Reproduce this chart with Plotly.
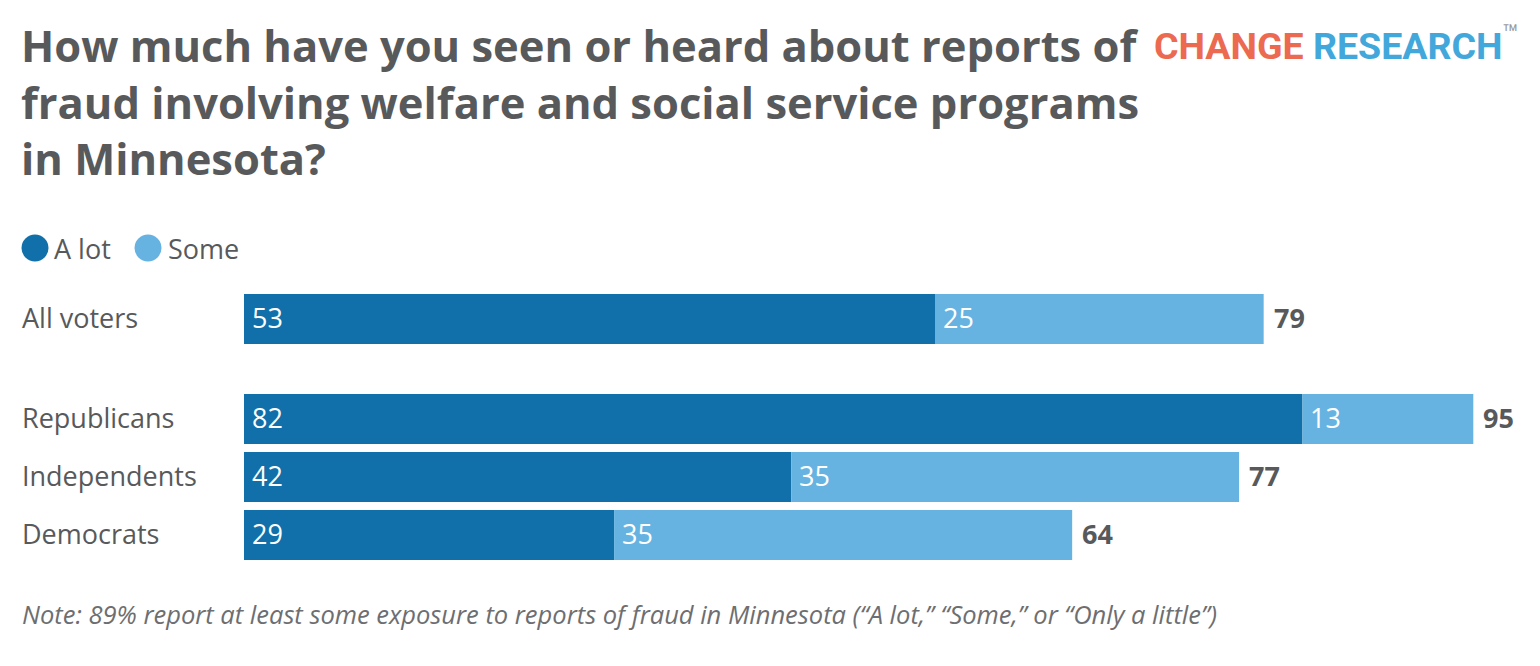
import plotly.graph_objects as go

# Survey data (percent)
groups = ["All voters", "Republicans", "Independents", "Democrats"]
a_lot = [53.4, 81.8, 42.3, 28.6]
some = [25.4, 13.2, 34.6, 35.4]
series_names = ["A lot", "Some"]

TITLE = ("How much have you seen or heard about reports of<br>"
         "fraud involving welfare and social service programs<br>"
         "in Minnesota?")
NOTE = ("Note: 89% report at least some exposure to reports of fraud in "
        "Minnesota (\u201cA lot,\u201d \u201cSome,\u201d or \u201cOnly a little\u201d)")

W, H = 1540, 666
PLOT_LEFT = 244
PX_PER_PT = 12.94
DARK = "#1170AA"
LIGHT = "#66B3E2"
GREY = "#58595B"
FONT = "Open Sans"
LABEL_SIZE = 27
TEXT_LIFT = 2  # nudge row texts up a little, like the original

# row layout (pixels from top): first group, gap, then party rows
ROW_PITCH = 58
GROUP_GAP = 42
first_row = 319
row_y = [first_row]
for i in range(1, len(groups)):
    row_y.append(row_y[-1] + ROW_PITCH + (GROUP_GAP if i == 1 else 0))

totals = [a + s for a, s in zip(a_lot, some)]

fig = go.Figure()
fig.add_trace(go.Bar(y=row_y, x=a_lot, orientation="h", name=series_names[0],
                     marker=dict(color=DARK, line=dict(width=0)), width=50,
                     hoverinfo="x"))
fig.add_trace(go.Bar(y=row_y, x=some, base=a_lot, orientation="h", name=series_names[1],
                     marker=dict(color=LIGHT, line=dict(width=0)), width=50,
                     hoverinfo="x"))

ann = []
for g, y, a, s, t in zip(groups, row_y, a_lot, some, totals):
    ann.append(dict(x=20 / W, xref="paper", y=y, yref="y", text=g, showarrow=False,
                    xanchor="left", yanchor="middle", yshift=TEXT_LIFT,
                    font=dict(family=FONT, size=LABEL_SIZE, color=GREY)))
    ann.append(dict(x=0, y=y, xref="x", yref="y", text=str(round(a)), showarrow=False,
                    xanchor="left", xshift=6, yanchor="middle", yshift=TEXT_LIFT,
                    font=dict(family=FONT, size=LABEL_SIZE, color="white")))
    ann.append(dict(x=a, y=y, xref="x", yref="y", text=str(round(s)), showarrow=False,
                    xanchor="left", xshift=6, yanchor="middle", yshift=TEXT_LIFT,
                    font=dict(family=FONT, size=LABEL_SIZE, color="white")))
    ann.append(dict(x=t, y=y, xref="x", yref="y", text="<b>%d</b>" % round(t), showarrow=False,
                    xanchor="left", xshift=8, yanchor="middle", yshift=TEXT_LIFT,
                    font=dict(family=FONT, size=LABEL_SIZE, color=GREY)))

# title
ann.append(dict(x=19 / W, y=1 - 14 / H, xref="paper", yref="paper", text="<b>" + TITLE + "</b>",
                showarrow=False, xanchor="left", yanchor="top", align="left",
                font=dict(family=FONT, size=43.5, color=GREY)))
# logo
ann.append(dict(x=1152 / W, y=1 - 44 / H, xref="paper", yref="paper",
                text="<b><span style='color:#EC6A4F'>CHANGE</span> "
                     "<span style='color:#42A8DC'>RESEARCH</span></b>"
                     "<sup><span style='color:#999'>\u2122</span></sup>",
                showarrow=False, xanchor="left", yanchor="middle",
                font=dict(family="Roboto", size=37.5)))
# note
ann.append(dict(x=20 / W, y=1 - 614 / H, xref="paper", yref="paper", text="<i>" + NOTE + "</i>",
                showarrow=False, xanchor="left", yanchor="middle",
                font=dict(family=FONT, size=25.5, color="#6D6E71")))

# legend (circles + labels)
shapes = []
legend_items = [(35, 52, series_names[0], DARK), (148, 166, series_names[1], LIGHT)]
for cx, tx, label, col in legend_items:
    shapes.append(dict(type="circle", xref="paper", yref="paper",
                       xsizemode="pixel", ysizemode="pixel",
                       xanchor=cx / W, yanchor=1 - 248 / H,
                       x0=-13.5, x1=13.5, y0=-13.5, y1=13.5,
                       fillcolor=col, line=dict(width=0)))
    ann.append(dict(x=tx / W, y=1 - 248 / H, xref="paper", yref="paper", text=label,
                    showarrow=False, xanchor="left", yanchor="middle",
                    font=dict(family=FONT, size=LABEL_SIZE, color=GREY)))

fig.update_layout(
    width=W, height=H,
    margin=dict(l=0, r=0, t=0, b=0),
    barmode="overlay",
    showlegend=False,
    paper_bgcolor="white",
    plot_bgcolor="white",
    annotations=ann,
    shapes=shapes,
    xaxis=dict(domain=[PLOT_LEFT / W, 1], range=[0, (W - PLOT_LEFT) / PX_PER_PT],
               visible=False, fixedrange=True),
    yaxis=dict(domain=[0, 1], range=[H, 0], visible=False, fixedrange=True),
)

# drop the default page margin so the figure sits at the window's corner
fig.write_html("out.html", config={"displayModeBar": False},
               post_script="document.body.style.margin = '0';")
